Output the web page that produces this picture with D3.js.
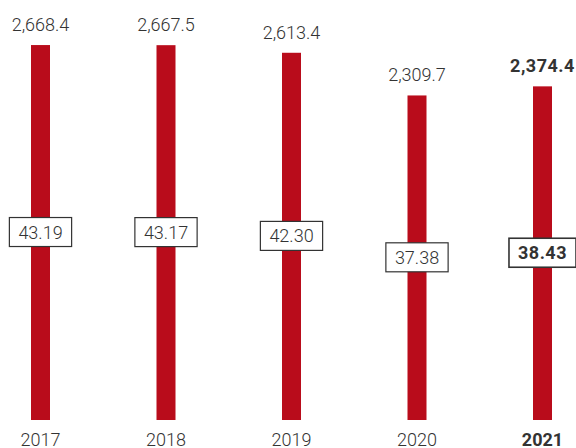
<!DOCTYPE html>
<html>
<head>
<meta charset="utf-8">
<script src="https://cdn.jsdelivr.net/npm/d3@7"></script>
<style>
  body { margin: 0; background: #fff; }
  text { font-family: "Roboto", sans-serif; fill: #333; }
</style>
</head>
<body>
<div id="wrapper"></div>
<script>
const years = ["2017", "2018", "2019", "2020", "2021"]
const barValues = [2668.4, 2667.5, 2613.4, 2309.7, 2374.4]
const boxValues = [43.19, 43.17, 42.30, 37.38, 38.43]
const highlightYear = "2021"

const dimensions = { width: 576, height: 448, baseline: 420 }

const svg = d3.select("#wrapper")
  .append("svg")
    .attr("width", dimensions.width)
    .attr("height", dimensions.height)

// scales
const xScale = d3.scalePoint()
  .domain(years)
  .range([40.5, 542.5])

const yScale = d3.scaleLinear()
  .domain([0, 2989])
  .range([dimensions.baseline, 0])

const boxScale = d3.scaleLinear()
  .domain([0, 96.5])
  .range([dimensions.baseline, 0])

const barWidth = 19
const fmtBar = d3.format(",.1f")
const fmtBox = d3.format(".2f")
const isBold = y => y === highlightYear

// bars
svg.selectAll("rect.bar")
  .data(years)
  .enter().append("rect")
    .attr("class", "bar")
    .attr("x", d => xScale(d) - barWidth / 2)
    .attr("y", (d, i) => yScale(barValues[i]))
    .attr("width", barWidth)
    .attr("height", (d, i) => dimensions.baseline - yScale(barValues[i]))
    .attr("fill", "#b90c1b")

// value labels on top
svg.selectAll("text.top")
  .data(years)
  .enter().append("text")
    .attr("class", "top")
    .attr("x", d => xScale(d))
    .attr("y", (d, i) => yScale(barValues[i]) - 14)
    .attr("text-anchor", "middle")
    .style("font-size", "18px")
    .style("font-weight", d => isBold(d) ? 700 : 300)
    .style("letter-spacing", d => isBold(d) ? "0.5px" : "0px")
    .text((d, i) => fmtBar(barValues[i]))

// boxed labels
const boxes = svg.selectAll("g.box")
  .data(years)
  .enter().append("g")
    .attr("class", "box")
    .attr("transform", (d, i) => `translate(${xScale(d)}, ${boxScale(boxValues[i])})`)

const boxRects = boxes.append("rect")
    .attr("fill", "#fff")
    .attr("stroke", "#333")
    .attr("stroke-width", d => isBold(d) ? 1.6 : 1.2)

const boxTexts = boxes.append("text")
    .attr("text-anchor", "middle")
    .attr("dy", "0.36em")
    .style("font-size", "18px")
    .style("font-weight", d => isBold(d) ? 700 : 300)
    .style("letter-spacing", d => isBold(d) ? "0.5px" : "0px")
    .text((d, i) => fmtBox(boxValues[i]))

boxTexts.each(function(d) {
  const w = this.getComputedTextLength() + 18
  d3.select(this.parentNode).select("rect")
    .attr("x", -w / 2)
    .attr("y", -14.5)
    .attr("width", w)
    .attr("height", 29)
})

// year labels
svg.selectAll("text.year")
  .data(years)
  .enter().append("text")
    .attr("class", "year")
    .attr("x", d => xScale(d))
    .attr("y", 446)
    .attr("text-anchor", "middle")
    .style("font-size", "18px")
    .style("font-weight", d => isBold(d) ? 700 : 300)
    .text(d => d)
</script>
</body>
</html>
